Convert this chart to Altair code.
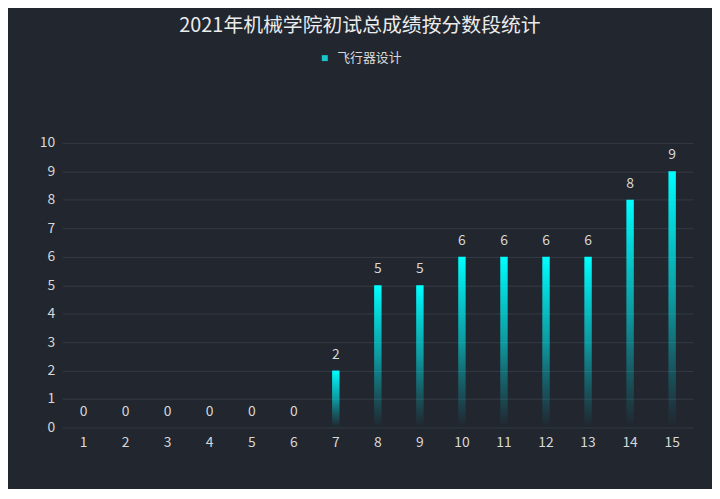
import altair as alt
import pandas as pd

categories = [str(i) for i in range(1, 16)]
values = [0, 0, 0, 0, 0, 0, 2, 5, 5, 6, 6, 6, 6, 8, 9]
series_name = "飞行器设计"
title_text = "2021年机械学院初试总成绩按分数段统计"

df = pd.DataFrame({"score": categories, "count": values, "series": [series_name] * len(values)})

FONT = "Noto Sans CJK SC"
BG = "#21262f"
GRID = "#353b45"
LABEL = "#d8d8d8"

gradient = {
    "gradient": "linear",
    "x1": 0, "y1": 0, "x2": 0, "y2": 1,
    "stops": [
        {"offset": 0, "color": "#00ffff"},
        {"offset": 0.5, "color": "rgba(0,230,235,0.6)"},
        {"offset": 1, "color": "rgba(0,200,210,0.0)"},
    ],
}

x = alt.X(
    "score:O",
    sort=categories,
    scale=alt.Scale(paddingInner=0, paddingOuter=0),
    axis=alt.Axis(
        title=None, labelAngle=0, domain=False, ticks=False, grid=False,
        labelColor=LABEL, labelFont=FONT, labelFontSize=14, labelPadding=8,
    ),
)
y = alt.Y(
    "count:Q",
    scale=alt.Scale(domain=[0, 10], nice=False),
    axis=alt.Axis(
        title=None, values=list(range(0, 11)), domain=False, ticks=False,
        grid=True, gridColor=GRID, gridWidth=1,
        labelColor=LABEL, labelFont=FONT, labelFontSize=14, labelPadding=8,
    ),
)

base = alt.Chart(df)

bars = base.mark_bar(size=7.5, color=gradient).encode(x=x, y=y)

labels = base.mark_text(
    baseline="alphabetic", dy=-12, color=LABEL, font=FONT, fontSize=14
).encode(x=x, y=y, text="count:Q")

legend_layer = base.mark_square(opacity=1).encode(
    color=alt.Color(
        "series:N",
        scale=alt.Scale(domain=[series_name], range=["#16c6ca"]),
        legend=alt.Legend(
            title=None, orient="none", legendX=258, legendY=-92,
            direction="horizontal", padding=0,
            symbolType="square", symbolSize=36, symbolStrokeWidth=0,
            labelColor=LABEL, labelFont=FONT, labelFontSize=13, labelOffset=6,
        ),
    )
).transform_filter("false")

chart = alt.layer(bars, labels, legend_layer).properties(
    width=636,
    height=287,
    padding={"left": 55, "top": 134, "right": 19, "bottom": 60},
    autosize=alt.AutoSizeParams(type="none"),
    background=BG,
    title=alt.TitleParams(
        title_text, font=FONT, fontSize=20, fontWeight="normal", color="#ececec",
        anchor="middle", frame="group", offset=16, dx=-18,
    ),
).configure_view(stroke=None)

chart.save("out.html", embed_options={"renderer": "svg", "actions": False})
